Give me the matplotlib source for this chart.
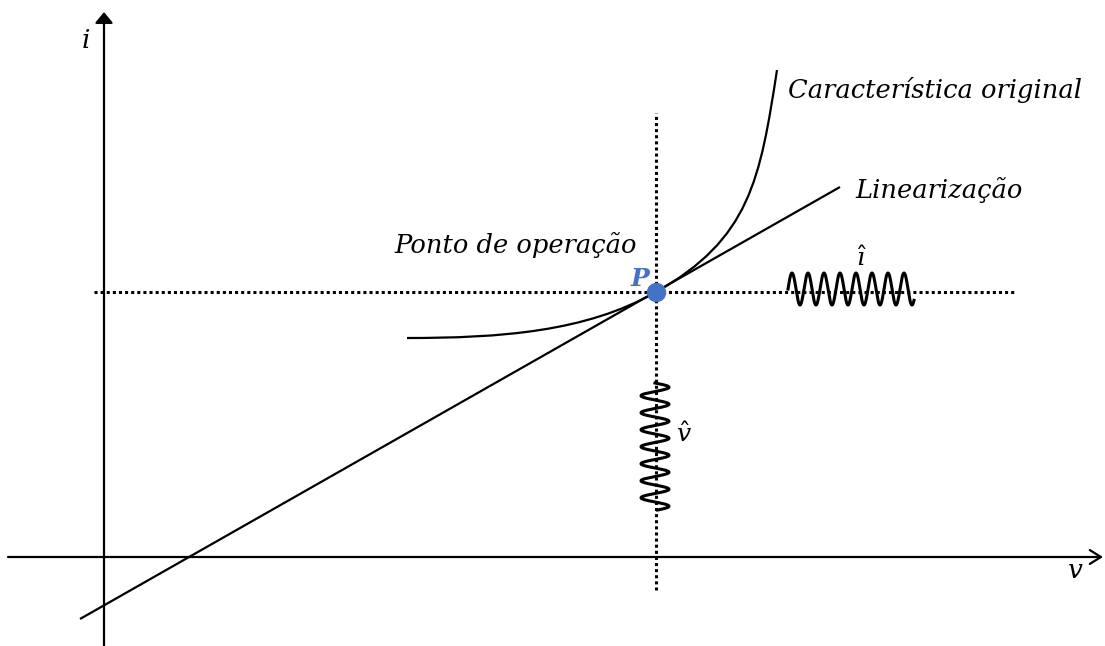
import matplotlib
matplotlib.use("Agg")
import matplotlib.pyplot as plt
from matplotlib.path import Path
from matplotlib.patches import PathPatch
import numpy as np

plt.rcParams['mathtext.fontset'] = 'dejavuserif'

# ---- data (v, i units; axes origin at 0,0) ----
# characteristic drawn as two cubic Bezier segments: anchor / control points
curve_v = [3.03, 3.96, 4.82, 5.52, 6.46, 6.56, 6.73]
curve_i = [2.19, 2.19, 2.25, 2.65, 3.18, 3.77, 4.87]

lin_v = [-0.24, 7.36]
lin_i = [-0.62, 3.70]

op_v, op_i = 5.52, 2.65

hdot_v = [-0.10, 9.11]
vdot_i = [-0.33, 4.44]

v_axis = [-0.96, 9.99]
i_axis = [-0.89, 5.45]

# small-signal waves: (start, end, centre, amplitude, period)
wave_i_span = [6.84, 8.10]
wave_i_centre, wave_i_amp, wave_i_period = 2.68, 0.16, 0.16
wave_v_span = [1.74, 0.47]
wave_v_centre, wave_v_amp, wave_v_period = 5.51, 0.14, 0.17

labels = {
    "curve": "Característica original",
    "lin": "Linearização",
    "op": "Ponto de operação",
    "P": "P",
}

# ---- figure ----
fig = plt.figure(figsize=(11.05, 6.46), dpi=100)
ax = fig.add_axes([0, 0, 1, 1])
ax.set_xlim(-1.04, 10.01)
ax.set_ylim(-0.89, 5.57)
ax.axis('off')

# axes with arrows
ax.annotate('', xy=(0, i_axis[1]), xytext=(0, i_axis[0]),
            arrowprops=dict(arrowstyle='-|>,head_length=0.33,head_width=0.27', lw=1.6,
                            color='black', mutation_scale=20, shrinkA=0, shrinkB=0))
ax.annotate('', xy=(v_axis[1], 0), xytext=(v_axis[0], 0),
            arrowprops=dict(arrowstyle='->,head_length=0.4,head_width=0.25', lw=1.6,
                            color='black', mutation_scale=20, shrinkA=0, shrinkB=0))

# dotted lines
ax.plot(hdot_v, [op_i, op_i], color='black', lw=2.2, linestyle=(0, (1, 1)),
        dash_capstyle='butt')
ax.plot([op_v, op_v], vdot_i, color='black', lw=2.2, linestyle=(0, (1, 1)),
        dash_capstyle='butt')

# linearization
ax.plot(lin_v, lin_i, color='black', lw=1.6, solid_capstyle='butt')

# characteristic curve (smooth Bezier through P, tangent to linearization)
verts = list(zip(curve_v, curve_i))
codes = [Path.MOVETO] + [Path.CURVE4] * (len(verts) - 1)
ax.add_patch(PathPatch(Path(verts, codes), facecolor='none', edgecolor='black', lw=1.6))

# small-signal waves
wv = np.linspace(wave_i_span[0], wave_i_span[1], 400)
wi = wave_i_centre + wave_i_amp * np.sin(2 * np.pi * (wv - wave_i_span[0]) / wave_i_period)
ax.plot(wv, wi, color='black', lw=2.2)

ti = np.linspace(wave_v_span[0], wave_v_span[1], 400)
tv = wave_v_centre + wave_v_amp * np.sin(2 * np.pi * (wave_v_span[0] - ti) / wave_v_period)
ax.plot(tv, ti, color='black', lw=2.2)

# operating point
ax.plot([op_v], [op_i], 'o', color='#4472C4', markersize=13, zorder=5)

# texts
fs = 18.5
ax.text(6.84, 4.67, labels["curve"], style='italic', family='DejaVu Serif',
        fontsize=fs, ha='left', va='center')
ax.text(7.51, 3.67, labels["lin"], style='italic', family='DejaVu Serif',
        fontsize=fs, ha='left', va='center')
ax.text(5.33, 3.12, labels["op"], style='italic', family='DejaVu Serif',
        fontsize=fs, ha='right', va='center')
ax.text(5.36, 2.78, labels["P"], style='italic', weight='bold', family='DejaVu Serif',
        fontsize=18, ha='center', va='center', color='#4472C4')
ax.text(7.57, 2.98, r'$\hat{\imath}$', fontsize=18, ha='center', va='center')
ax.text(5.80, 1.22, r'$\hat{v}$', fontsize=18, ha='center', va='center')
ax.text(-0.18, 5.16, r'$i$', fontsize=19, ha='center', va='center')
ax.text(9.71, -0.14, r'$v$', fontsize=19, ha='center', va='center')

fig.savefig('out.png', dpi=100)
